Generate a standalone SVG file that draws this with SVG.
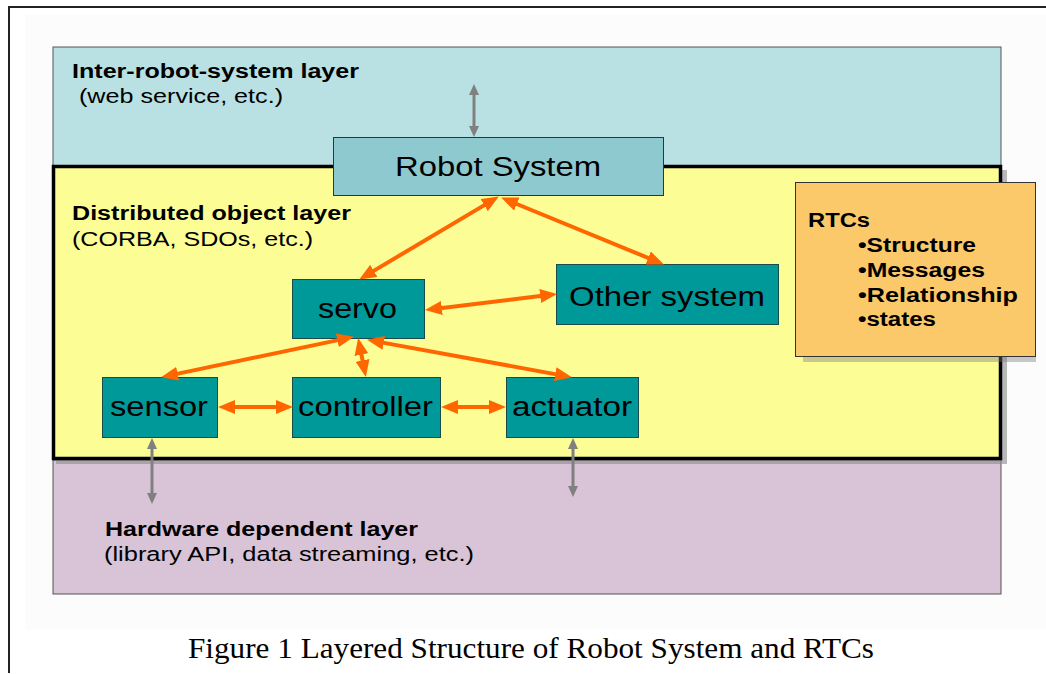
<svg xmlns="http://www.w3.org/2000/svg" width="1046" height="674" viewBox="0 0 1046 674">
<style>
.lbl{font-family:"Liberation Sans",Arial,sans-serif;fill:#000}
.b{font-weight:bold;font-size:20px}
.n{font-size:20px}
.node{font-size:27px}
.box{fill:#009999;stroke:#1a4a4a;stroke-width:1}
.oa{stroke:#ff6600;stroke-width:4;fill:none;marker-start:url(#oh);marker-end:url(#oh)}
.ga{stroke:#808080;stroke-width:3;fill:none;marker-start:url(#gh);marker-end:url(#gh)}
.cap{font-family:"Liberation Serif","Times New Roman",serif;font-size:29px;fill:#000}
</style>
<defs>
<marker id="oh" markerUnits="userSpaceOnUse" markerWidth="17" markerHeight="14" refX="8" refY="7" orient="auto-start-reverse" viewBox="0 0 17 14">
<path d="M0,0 L17,7 L0,14 z" fill="#ff6600"/>
</marker>
<marker id="gh" markerUnits="userSpaceOnUse" markerWidth="11" markerHeight="10" refX="5" refY="5" orient="auto-start-reverse" viewBox="0 0 11 10">
<path d="M0,0 L11,5 L0,10 z" fill="#808080"/>
</marker>
</defs>
<rect x="0" y="0" width="1046" height="674" fill="#ffffff"/>
<rect x="25" y="15" width="1021" height="615" fill="#fcfcfc"/>
<path d="M9,673 L9,7 L1046,7" fill="none" stroke="#222" stroke-width="2"/>

<g id="layer-inter">
<rect x="53" y="47" width="948" height="120" fill="#b9e0e3" stroke="#555" stroke-width="1"/>
<text class="lbl b" x="72" y="78" textLength="287" lengthAdjust="spacingAndGlyphs">Inter-robot-system layer</text>
<text class="lbl n" x="79" y="103" textLength="204" lengthAdjust="spacingAndGlyphs">(web service, etc.)</text>
</g>
<g id="layer-hardware">
<rect x="53" y="460" width="948" height="134" fill="#d9c3d6" stroke="#555" stroke-width="1"/>
<text class="lbl b" x="105" y="536" textLength="313" lengthAdjust="spacingAndGlyphs">Hardware dependent layer</text>
<text class="lbl n" x="104" y="561" textLength="370" lengthAdjust="spacingAndGlyphs">(library API, data streaming, etc.)</text>
</g>
<g id="layer-distributed">
<rect x="56" y="170" width="951" height="294" fill="#8a8a8a" opacity="0.6"/>
<rect x="53.5" y="166.5" width="947" height="292" fill="#fdfd96" stroke="#000" stroke-width="3.5"/>
<text class="lbl b" x="72" y="220" textLength="279" lengthAdjust="spacingAndGlyphs">Distributed object layer</text>
<text class="lbl n" x="72" y="246" textLength="241" lengthAdjust="spacingAndGlyphs">(CORBA, SDOs, etc.)</text>
</g>

<g id="rtcs">
<rect x="803" y="190" width="233" height="172" fill="#777" opacity="0.4"/>
<rect x="795.5" y="182.5" width="240" height="174" fill="#fcc96a" stroke="#333" stroke-width="1"/>
<text class="lbl b" x="808" y="227" textLength="62" lengthAdjust="spacingAndGlyphs">RTCs</text>
<text class="lbl b" x="858" y="252" textLength="118" lengthAdjust="spacingAndGlyphs">•Structure</text>
<text class="lbl b" x="858" y="277" textLength="127" lengthAdjust="spacingAndGlyphs">•Messages</text>
<text class="lbl b" x="858" y="302" textLength="160" lengthAdjust="spacingAndGlyphs">•Relationship</text>
<text class="lbl b" x="858" y="326" textLength="78" lengthAdjust="spacingAndGlyphs">•states</text>
</g>

<g id="robot-system">
<rect x="333.5" y="137.5" width="330" height="58" fill="#8ec9d0" stroke="#333" stroke-width="1"/>
<text class="lbl node" x="395" y="176" textLength="206" lengthAdjust="spacingAndGlyphs">Robot System</text>
</g>
<g id="servo">
<rect class="box" x="292.5" y="279.5" width="132" height="59"/>
<text class="lbl node" x="318" y="318" textLength="79" lengthAdjust="spacingAndGlyphs">servo</text>
</g>
<g id="other-system">
<rect class="box" x="556.5" y="264.5" width="222" height="60"/>
<text class="lbl node" x="569" y="306" textLength="196" lengthAdjust="spacingAndGlyphs">Other system</text>
</g>
<g id="sensor">
<rect class="box" x="102.5" y="377.5" width="115" height="60"/>
<text class="lbl node" x="110" y="416" textLength="98" lengthAdjust="spacingAndGlyphs">sensor</text>
</g>
<g id="controller">
<rect class="box" x="292.5" y="377.5" width="148" height="60"/>
<text class="lbl node" x="298" y="416" textLength="135" lengthAdjust="spacingAndGlyphs">controller</text>
</g>
<g id="actuator">
<rect class="box" x="506.5" y="377.5" width="132" height="60"/>
<text class="lbl node" x="512" y="416" textLength="120" lengthAdjust="spacingAndGlyphs">actuator</text>
</g>

<g id="connectors">
<line class="ga" x1="474" y1="90" x2="474" y2="131"/>
<line class="ga" x1="152" y1="444" x2="152" y2="498"/>
<line class="ga" x1="573" y1="444" x2="573" y2="491"/>
<line class="oa" x1="491.1" y1="201.1" x2="366.9" y2="274.9"/>
<line class="oa" x1="509.4" y1="201.0" x2="655.6" y2="261.0"/>
<line class="oa" x1="433.9" y1="309.0" x2="548.1" y2="295.0"/>
<line class="oa" x1="345.2" y1="338.6" x2="169.8" y2="375.4"/>
<line class="oa" x1="359.9" y1="346.8" x2="364.1" y2="368.2"/>
<line class="oa" x1="375.9" y1="341.4" x2="563.1" y2="375.6"/>
<line class="oa" x1="227" y1="407" x2="284" y2="407"/>
<line class="oa" x1="450" y1="407" x2="497" y2="407"/>
</g>

<text class="cap" x="188" y="658" textLength="686" lengthAdjust="spacingAndGlyphs">Figure 1 Layered Structure of Robot System and RTCs</text>
</svg>
